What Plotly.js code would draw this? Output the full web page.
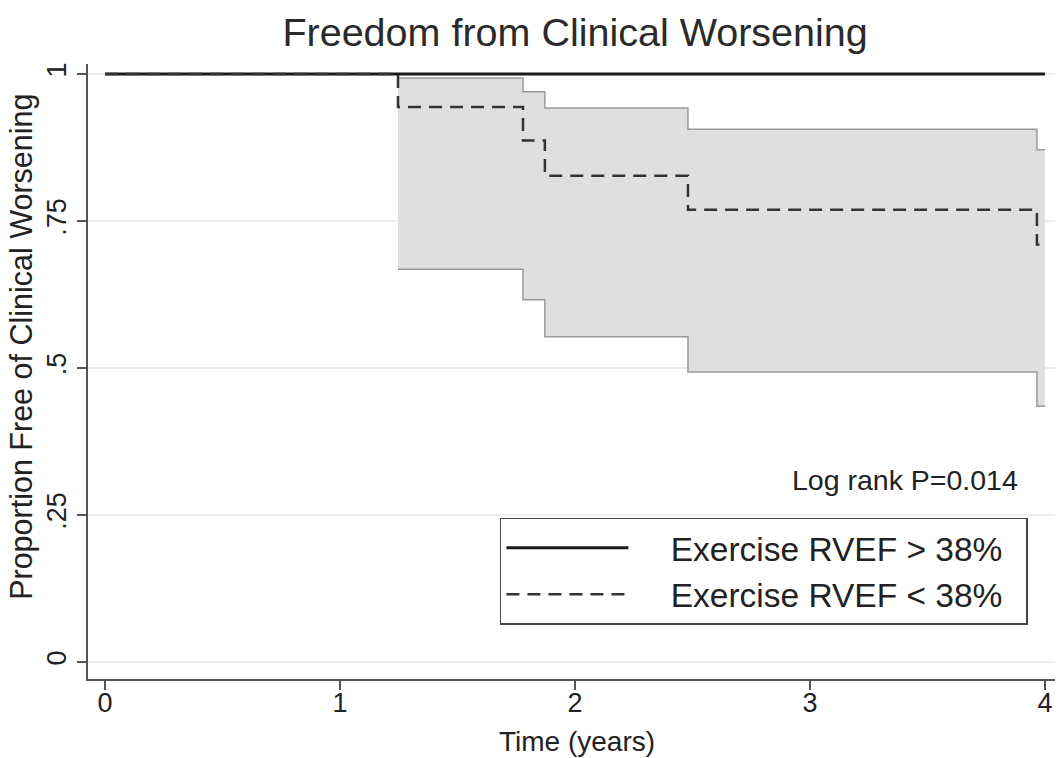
<!DOCTYPE html>
<html>
<head>
<meta charset="utf-8">
<script src="https://cdn.plot.ly/plotly-3.0.1.min.js"></script>
<style>html,body{margin:0;padding:0;background:#fff;}#chart{width:1062px;height:758px;}</style>
</head>
<body>
<div id="chart"></div>
<script>
// Group with exercise RVEF > 38% (no events)
const timeHigh = [0, 4];
const survHigh = [1, 1];

// Group with exercise RVEF < 38% (Kaplan-Meier step estimate)
const timeLow = [0, 1.247, 1.779, 1.872, 2.481, 3.966, 4.0];
const survLow = [1, 0.944, 0.887, 0.827, 0.769, 0.71, 0.71];

// 95% confidence band for the RVEF < 38% group
const timeCI = [1.247, 1.779, 1.872, 2.481, 3.966, 4.0];
const lowerCI = [0.668, 0.616, 0.553, 0.493, 0.435, 0.435];
const upperCI = [0.993, 0.970, 0.942, 0.906, 0.871, 0.871];

const yTickVals = [0, 0.25, 0.5, 0.75, 1];
const yTickText = ['0', '.25', '.5', '.75', '1'];
const xTickVals = [0, 1, 2, 3, 4];

const seriesNames = ['Exercise RVEF > 38%', 'Exercise RVEF < 38%'];

const FONT = 'Liberation Sans, Arial, Helvetica, sans-serif';
const GAP = '\u00a0\u00a0\u00a0\u00a0';
const TAIL = '\u00a0\u00a0';

const traces = [
  {x: timeCI, y: lowerCI, mode: 'lines', line: {shape: 'hv', color: '#9a9a9a', width: 1.5},
   showlegend: false, hoverinfo: 'skip'},
  {x: timeCI, y: upperCI, mode: 'lines', line: {shape: 'hv', color: '#9a9a9a', width: 1.5},
   fill: 'tonexty', fillcolor: '#dfdfdf', showlegend: false, hoverinfo: 'skip'},
  {x: timeHigh, y: survHigh, mode: 'lines', name: GAP + seriesNames[0] + TAIL,
   line: {color: '#1a1a1a', width: 3}},
  {x: timeLow, y: survLow, mode: 'lines', name: GAP + seriesNames[1] + TAIL,
   line: {shape: 'hv', color: '#333333', width: 2.5, dash: '13px,8px'}}
];

const layout = {
  width: 1062, height: 758,
  paper_bgcolor: '#ffffff', plot_bgcolor: '#ffffff',
  margin: {l: 88, r: 7, t: 64, b: 79},
  font: {family: FONT, color: '#222'},
  title: {text: 'Freedom from Clinical Worsening', font: {size: 39.5, color: '#2a2a2a', family: FONT},
          x: 0.5415, xanchor: 'center', y: 0.958, yanchor: 'middle'},
  xaxis: {
    range: [-0.0723, 4.043], tickvals: xTickVals, ticktext: xTickVals.map(String),
    showgrid: false, zeroline: false, showline: true, linecolor: '#555', linewidth: 2,
    ticks: 'outside', ticklen: 9, tickwidth: 1.5, tickcolor: '#555',
    tickfont: {size: 27, color: '#222'}, ticklabelstandoff: -10
  },
  yaxis: {
    range: [-0.0289, 1.017], tickvals: yTickVals, ticktext: yTickText, tickangle: -90,
    showgrid: true, gridcolor: '#ececec', gridwidth: 1.2,
    zeroline: false, showline: true, linecolor: '#555', linewidth: 2,
    ticks: 'outside', ticklen: 9, tickwidth: 1.5, tickcolor: '#555',
    tickfont: {size: 27, color: '#222'}
  },
  legend: {
    x: 0.426, y: 0.262, xanchor: 'left', yanchor: 'top', traceorder: 'normal',
    bgcolor: '#ffffff', bordercolor: '#444', borderwidth: 1.5,
    font: {size: 33.5, color: '#222'}, itemwidth: 122, tracegroupgap: 0
  },
  annotations: [
    {x: 3.894, y: 0.31, xref: 'x', yref: 'y', xanchor: 'right', yanchor: 'middle',
     text: 'Log rank P=0.014', showarrow: false, font: {size: 28.5, color: '#222'}},
    {x: -0.0683, y: 0.54, xref: 'paper', yref: 'paper', xanchor: 'center', yanchor: 'middle',
     textangle: -90, text: 'Proportion Free of Clinical Worsening', showarrow: false,
     font: {size: 30.5, color: '#222'}},
    {x: 0.5057, y: -0.102, xref: 'paper', yref: 'paper', xanchor: 'center', yanchor: 'middle',
     text: 'Time (years)', showarrow: false, font: {size: 28, color: '#222'}}
  ],
  showlegend: true
};

Plotly.newPlot('chart', traces, layout, {displayModeBar: false, staticPlot: true});
</script>
</body>
</html>
